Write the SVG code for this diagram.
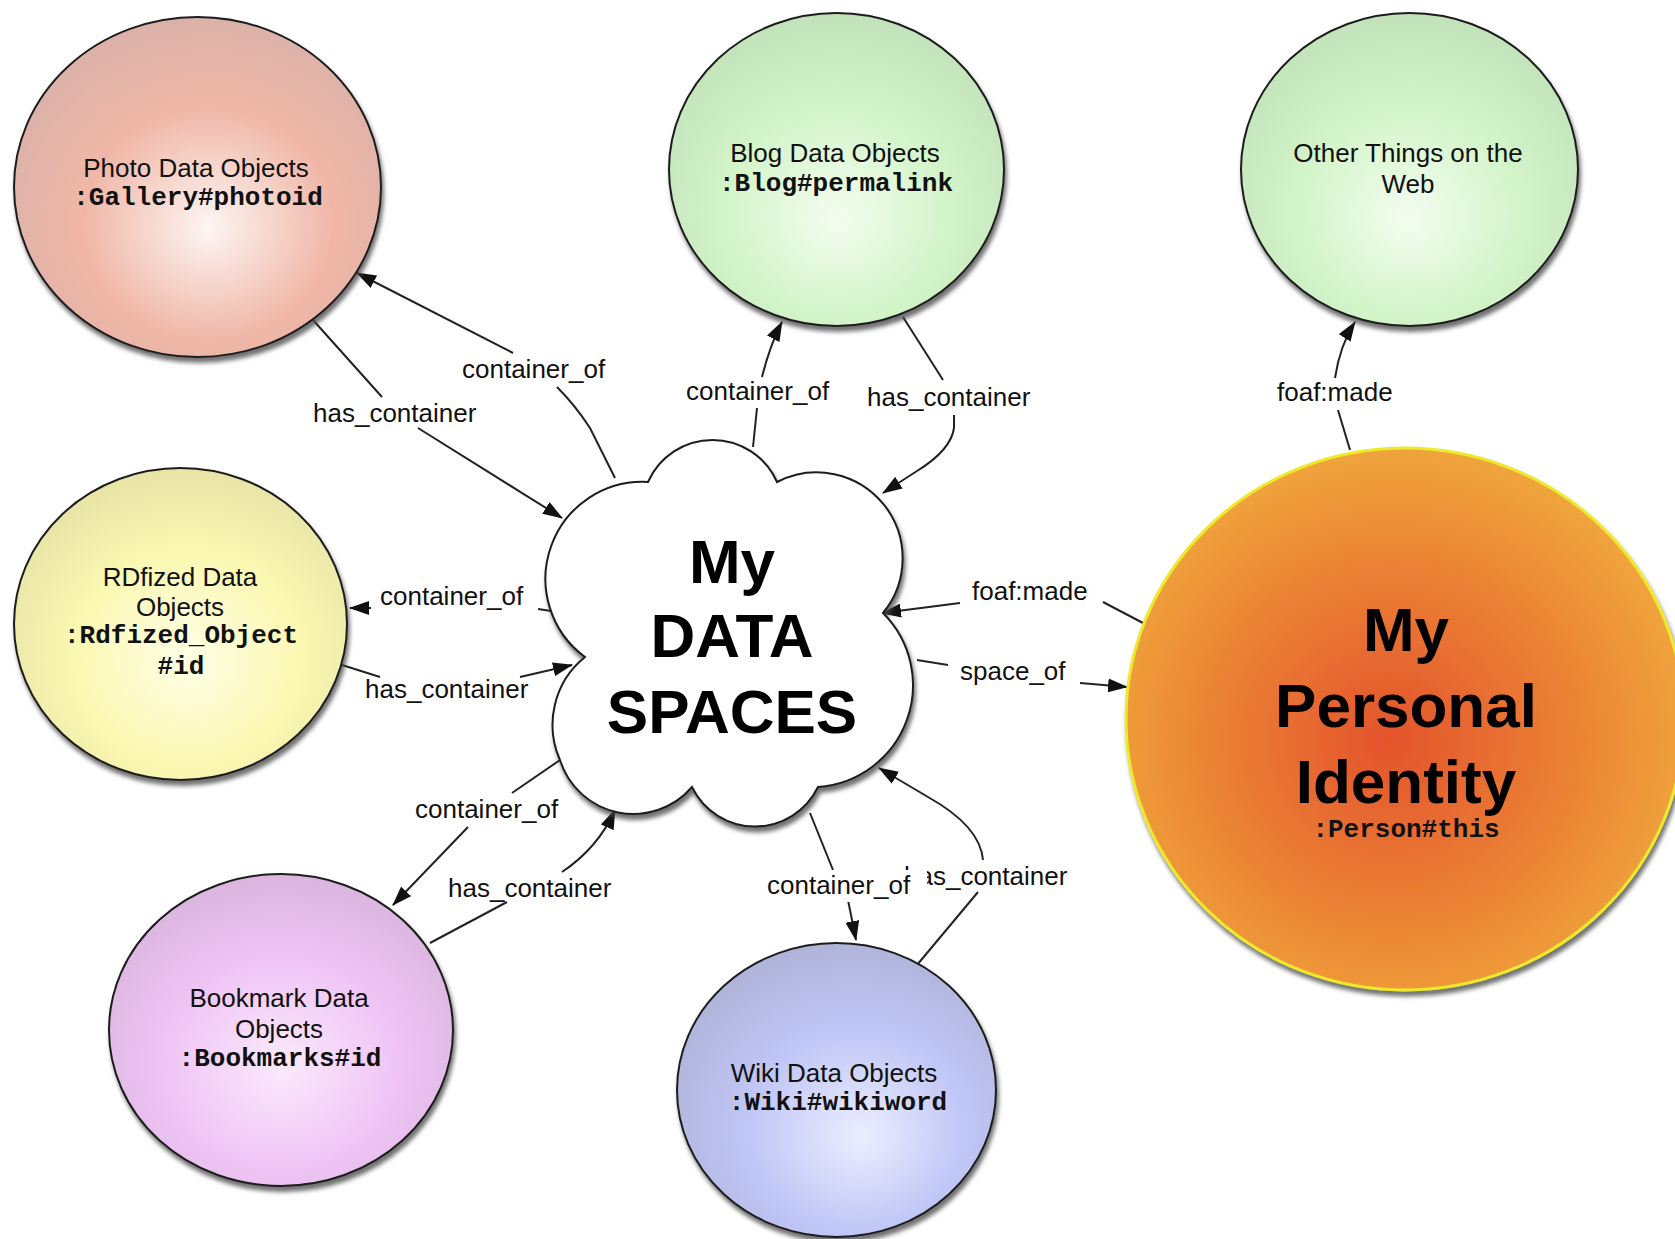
<svg xmlns="http://www.w3.org/2000/svg" width="1675" height="1239" viewBox="0 0 1675 1239">
<style>
.node{stroke:#1e1e1e;stroke-width:2}
.lbl{font-family:"Liberation Sans",Arial,sans-serif;font-size:26px;fill:#111}
.mono{font-family:"Liberation Mono","Courier New",monospace;font-size:26px;font-weight:bold;fill:#111}
.big{font-family:"Liberation Sans",Arial,sans-serif;font-weight:bold;font-size:62px;fill:#000}
.edge{fill:none;stroke:#222;stroke-width:2}
.arr{marker-end:url(#ah)}
</style>
<defs>
<marker id="ah" markerUnits="userSpaceOnUse" markerWidth="20" markerHeight="14" refX="19" refY="7" orient="auto">
<path d="M0,0 L20,7 L0,14 z" fill="#111"/>
</marker>
<filter id="sh" x="-10%" y="-10%" width="125%" height="125%">
<feDropShadow dx="2" dy="5" stdDeviation="2" flood-color="#444" flood-opacity="0.75"/>
</filter>
<radialGradient id="gPhoto" cx="0.53" cy="0.6" r="0.62" fx="0.53" fy="0.62">
<stop offset="0" stop-color="#fdf5f3"/><stop offset="0.55" stop-color="#f0b7a7"/><stop offset="1" stop-color="#d9b1a9"/>
</radialGradient>
<radialGradient id="gGreen" cx="0.5" cy="0.62" r="0.62" fx="0.5" fy="0.66">
<stop offset="0" stop-color="#f4fdf0"/><stop offset="0.55" stop-color="#d2f4c8"/><stop offset="1" stop-color="#c2e2ba"/>
</radialGradient>
<radialGradient id="gYellow" cx="0.52" cy="0.6" r="0.62" fx="0.52" fy="0.62">
<stop offset="0" stop-color="#fffee6"/><stop offset="0.55" stop-color="#fbf8b2"/><stop offset="1" stop-color="#e6e2a6"/>
</radialGradient>
<radialGradient id="gPink" cx="0.5" cy="0.6" r="0.62" fx="0.5" fy="0.62">
<stop offset="0" stop-color="#fbeafc"/><stop offset="0.55" stop-color="#efc4f5"/><stop offset="1" stop-color="#d8b4dc"/>
</radialGradient>
<radialGradient id="gBlue" cx="0.55" cy="0.62" r="0.62" fx="0.58" fy="0.66">
<stop offset="0" stop-color="#eceeff"/><stop offset="0.55" stop-color="#c0c6f6"/><stop offset="1" stop-color="#b0b4da"/>
</radialGradient>
<radialGradient id="gOrange" cx="0.48" cy="0.54" r="0.55" fx="0.47" fy="0.54">
<stop offset="0" stop-color="#e4532c"/><stop offset="0.55" stop-color="#ea7f34"/><stop offset="1" stop-color="#f0a63c"/>
</radialGradient>
</defs>
<rect width="1675" height="1239" fill="#fff"/>

<g id="connectors">
<!-- photo container_of -->
<path class="edge" d="M615,478 L590,428 Q575,405 557,387"/>
<path class="edge arr" d="M513,353 L357,273"/>
<!-- photo has_container -->
<path class="edge" d="M313,320 L382,397"/>
<path class="edge arr" d="M418,428 L562,518"/>
<!-- rdf container_of -->
<path class="edge" d="M551,611 L538,609"/>
<path class="edge arr" d="M371,608 L350,608"/>
<!-- rdf has_container -->
<path class="edge" d="M342,665 L380,677"/>
<path class="edge arr" d="M520,677 L572,665"/>
<!-- bookmark container_of -->
<path class="edge" d="M560,760 L512,793"/>
<path class="edge arr" d="M468,827 L393,905"/>
<!-- bookmark has_container -->
<path class="edge" d="M430,943 L507,902"/>
<path class="edge arr" d="M562,872 Q598,848 615,810"/>
<!-- wiki container_of -->
<path class="edge" d="M810,813 L833,870"/>
<path class="edge arr" d="M848,900 L856,940"/>
<!-- wiki has_container -->
<path class="edge" d="M917,965 L978,892"/>
<path class="edge arr" d="M983,860 C981,836 962,816 928,797 L879,768"/>
<!-- blog container_of -->
<path class="edge" d="M753,447 L757,408"/>
<path class="edge arr" d="M762,377 Q770,345 782,322"/>
<!-- blog has_container -->
<path class="edge" d="M903,317 L943,380"/>
<path class="edge arr" d="M954,415 L954,428 Q951,450 917,471 L883,493"/>
<!-- foaf:made top -->
<path class="edge" d="M1350,450 L1338,410"/>
<path class="edge arr" d="M1335,378 Q1340,345 1355,322"/>
<!-- foaf:made right -->
<path class="edge" d="M1143,623 L1103,602"/>
<path class="edge arr" d="M960,603 L882,613"/>
<!-- space_of -->
<path class="edge" d="M917,660 L948,665"/>
<path class="edge arr" d="M1080,683 L1127,687"/>
</g>

<g id="photo">
<ellipse class="node" cx="197.5" cy="187" rx="183.5" ry="170" fill="url(#gPhoto)" filter="url(#sh)"/>
<text class="lbl" x="196" y="177" text-anchor="middle">Photo Data Objects</text>
<text class="mono" x="198" y="205" text-anchor="middle">:Gallery#photoid</text>
</g>

<g id="blog">
<ellipse class="node" cx="836.5" cy="169.5" rx="167.5" ry="156.5" fill="url(#gGreen)" filter="url(#sh)"/>
<text class="lbl" x="835" y="162" text-anchor="middle">Blog Data Objects</text>
<text class="mono" x="836" y="191" text-anchor="middle">:Blog#permalink</text>
</g>

<g id="other">
<ellipse class="node" cx="1409.5" cy="169.5" rx="168.5" ry="156.5" fill="url(#gGreen)" filter="url(#sh)"/>
<text class="lbl" x="1408" y="162" text-anchor="middle">Other Things on the</text>
<text class="lbl" x="1408" y="193" text-anchor="middle">Web</text>
</g>

<g id="rdfized">
<ellipse class="node" cx="180.5" cy="624" rx="166.5" ry="156" fill="url(#gYellow)" filter="url(#sh)"/>
<text class="lbl" x="180" y="586" text-anchor="middle">RDfized Data</text>
<text class="lbl" x="180" y="616" text-anchor="middle">Objects</text>
<text class="mono" x="181" y="643" text-anchor="middle">:Rdfized_Object</text>
<text class="mono" x="181" y="674" text-anchor="middle">#id</text>
</g>

<g id="bookmark">
<ellipse class="node" cx="281" cy="1030" rx="172" ry="156" fill="url(#gPink)" filter="url(#sh)"/>
<text class="lbl" x="279" y="1007" text-anchor="middle">Bookmark Data</text>
<text class="lbl" x="279" y="1038" text-anchor="middle">Objects</text>
<text class="mono" x="280" y="1066" text-anchor="middle">:Bookmarks#id</text>
</g>

<g id="wiki">
<ellipse class="node" cx="836.5" cy="1090" rx="159.5" ry="147" fill="url(#gBlue)" filter="url(#sh)"/>
<text class="lbl" x="834" y="1082" text-anchor="middle">Wiki Data Objects</text>
<text class="mono" x="838" y="1110" text-anchor="middle">:Wiki#wikiword</text>
</g>

<g id="identity">
<ellipse cx="1405" cy="719" rx="279" ry="271" fill="url(#gOrange)" stroke="#eeea2c" stroke-width="3" filter="url(#sh)"/>
<text class="big" x="1406" y="651" text-anchor="middle">My</text>
<text class="big" x="1406" y="727" text-anchor="middle">Personal</text>
<text class="big" x="1406" y="803" text-anchor="middle">Identity</text>
<text class="mono" x="1406" y="837" text-anchor="middle">:Person#this</text>
</g>

<g id="dataspaces">
<path class="node" fill="#fff" filter="url(#sh)" d="M585,657 A97,97 0 0 1 648,482 A70.5,70.5 0 0 1 777,482 A86,86 0 0 1 883,613 A102,102 0 0 1 818,787 A70,70 0 0 1 692,787 A77,77 0 0 1 560,760 A87,87 0 0 1 585,657 Z"/>
<text class="big" x="732" y="583" text-anchor="middle">My</text>
<text class="big" x="732" y="657" text-anchor="middle">DATA</text>
<text class="big" x="732" y="733" text-anchor="middle">SPACES</text>
</g>

<g id="edge-labels">
<text class="lbl" x="462" y="378">container_of</text>
<text class="lbl" x="313" y="422">has_container</text>
<text class="lbl" x="380" y="605">container_of</text>
<text class="lbl" x="365" y="698">has_container</text>
<text class="lbl" x="415" y="818">container_of</text>
<text class="lbl" x="448" y="897">has_container</text>
<text class="lbl" x="686" y="400">container_of</text>
<text class="lbl" x="867" y="406">has_container</text>
<text class="lbl" x="1277" y="401">foaf:made</text>
<text class="lbl" x="972" y="600">foaf:made</text>
<text class="lbl" x="960" y="680">space_of</text>
<text class="lbl" x="904" y="885">has_container</text>
<rect x="762" y="870" width="165" height="32" fill="#fff"/>
<text class="lbl" x="767" y="894">container_of</text>
</g>
</svg>
